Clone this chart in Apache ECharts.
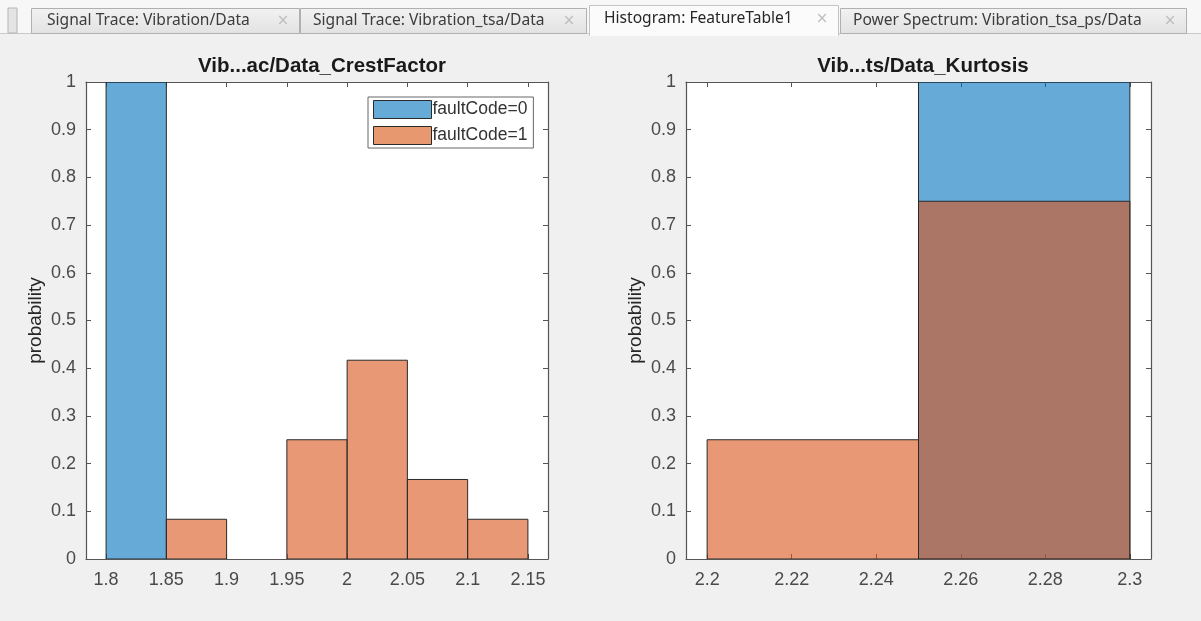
<!DOCTYPE html>
<html>
<head>
<meta charset="utf-8">
<script src="https://cdn.jsdelivr.net/npm/echarts@6/dist/echarts.min.js"></script>
<style>
html,body{margin:0;padding:0;background:#f0f0f0;}
#c{width:1201px;height:621px;}
</style>
</head>
<body>
<div id="c"></div>
<script>
// ---- data ----
var tabTitles = ['Signal Trace: Vibration/Data', 'Signal Trace: Vibration_tsa/Data', 'Histogram: FeatureTable1', 'Power Spectrum: Vibration_tsa_ps/Data'];
var leftTitle = 'Vib...ac/Data_CrestFactor';
var rightTitle = 'Vib...ts/Data_Kurtosis';
var seriesNames = ['faultCode=0', 'faultCode=1'];
// bins: [left edge, right edge, probability]
var crestFault0 = [[1.80, 1.85, 1.0]];
var crestFault1 = [[1.85, 1.90, 0.0833], [1.90, 1.95, 0], [1.95, 2.00, 0.25], [2.00, 2.05, 0.4167], [2.05, 2.10, 0.1667], [2.10, 2.15, 0.0833]];
var kurtFault0 = [[2.25, 2.30, 1.0]];
var kurtFault1 = [[2.20, 2.25, 0.25], [2.25, 2.30, 0.75]];
var crestTicks = [1.8, 1.85, 1.9, 1.95, 2, 2.05, 2.1, 2.15];
var kurtTicks = [2.2, 2.22, 2.24, 2.26, 2.28, 2.3];
var yTicks = [0, 0.1, 0.2, 0.3, 0.4, 0.5, 0.6, 0.7, 0.8, 0.9, 1];

// ---- styles ----
var FONT = '"Liberation Sans", Arial, Helvetica, sans-serif';
var AX = '#555555';
var LBL = '#4a4a4a';
var BLUE = 'rgba(0,114,189,0.6)';
var ORANGE = 'rgba(217,83,25,0.6)';
var EDGE = '#2a2a2a';

var chart = echarts.init(document.getElementById('c'), null, {renderer: 'canvas'});

function renderBin(params, api) {
  var p0 = api.coord([api.value(0), api.value(2)]);
  var p1 = api.coord([api.value(1), 0]);
  var h = p1[1] - p0[1];
  if (h <= 0.01) return null;
  return {
    type: 'rect',
    shape: {x: p0[0], y: p0[1], width: p1[0] - p0[0], height: h},
    style: {fill: api.visual('color'), stroke: EDGE, lineWidth: 1}
  };
}

var grids = [
  {left: 86, top: 82, width: 462, height: 477},
  {left: 686, top: 82, width: 465, height: 477}
];
var xr = [[1.78333, 2.16667], [2.195, 2.305]];
var xt = [crestTicks, kurtTicks];

var xAxes = [], yAxes = [];
for (var g = 0; g < 2; g++) {
  xAxes.push({
    type: 'value', gridIndex: g, min: xr[g][0], max: xr[g][1], position: 'bottom',
    axisLine: {show: true, onZero: false, lineStyle: {color: AX, width: 1.2}},
    axisTick: {show: true, inside: true, length: 5, customValues: xt[g], lineStyle: {color: AX}},
    axisLabel: {show: true, customValues: xt[g], color: LBL, fontSize: 18, fontFamily: FONT, margin: 12,
      formatter: function (v) { return String(+v.toFixed(3)); }},
    splitLine: {show: false}
  });
  xAxes.push({
    type: 'value', gridIndex: g, min: xr[g][0], max: xr[g][1], position: 'top',
    axisLine: {show: true, onZero: false, lineStyle: {color: AX, width: 1.2}},
    axisTick: {show: true, inside: true, length: 5, customValues: xt[g], lineStyle: {color: AX}},
    axisLabel: {show: false}, splitLine: {show: false}
  });
  yAxes.push({
    type: 'value', gridIndex: g, min: 0, max: 1, interval: 0.1, position: 'left',
    name: 'probability', nameLocation: 'middle', nameGap: 41, nameRotate: 90,
    nameTextStyle: {color: '#262626', fontSize: 19, fontFamily: FONT},
    axisLine: {show: true, onZero: false, lineStyle: {color: AX, width: 1.2}},
    axisTick: {show: true, inside: true, length: 5, customValues: yTicks, lineStyle: {color: AX}},
    axisLabel: {show: true, customValues: yTicks, color: LBL, fontSize: 18, fontFamily: FONT, margin: 10,
      formatter: function (v) { return String(+v.toFixed(2)); }},
    splitLine: {show: false}
  });
  yAxes.push({
    type: 'value', gridIndex: g, min: 0, max: 1, interval: 0.1, position: 'right',
    axisLine: {show: true, onZero: false, lineStyle: {color: AX, width: 1.2}},
    axisTick: {show: true, inside: true, length: 5, customValues: yTicks, lineStyle: {color: AX}},
    axisLabel: {show: false}, splitLine: {show: false}
  });
}

function binSeries(name, data, color, g) {
  return {
    type: 'custom', name: name, xAxisIndex: g * 2, yAxisIndex: g * 2,
    renderItem: renderBin, data: data, clip: true, silent: true,
    itemStyle: {color: color, borderColor: EDGE, borderWidth: 1},
    encode: {x: [0, 1], y: 2}
  };
}

// tab bar graphics
var tabGeo = [
  {x: 31, w: 268, tx: 47, cx: 283},
  {x: 300, w: 286, tx: 313, cx: 569},
  {x: 589, w: 249, tx: 604, cx: 822},
  {x: 840, w: 346, tx: 853, cx: 1170}
];
var graphics = [
  {type: 'rect', shape: {x: 0, y: 0, width: 1201, height: 34}, style: {fill: '#f7f7f7'}, z: 0},
  {type: 'rect', shape: {x: 0, y: 33, width: 1201, height: 1}, style: {fill: '#c9c9c9'}, z: 1},
  {type: 'rect', shape: {x: 8, y: 8, width: 9, height: 25}, style: {fill: '#e4e4e4', stroke: '#b5b5b5', lineWidth: 1}, z: 1}
];
for (var i = 0; i < tabTitles.length; i++) {
  var t = tabGeo[i];
  var active = (i === 2);
  graphics.push({
    type: 'rect', z: 2,
    shape: {x: t.x + 0.5, y: active ? 5.5 : 8.5, width: t.w, height: active ? 30 : 25},
    style: active ? {fill: '#fbfbfb', stroke: '#c4c4c4', lineWidth: 1} :
      {fill: new echarts.graphic.LinearGradient(0, 0, 0, 1, [{offset: 0, color: '#f2f2f2'}, {offset: 1, color: '#e2e2e2'}]), stroke: '#b0b0b0', lineWidth: 1}
  });
  if (active) {
    graphics.push({type: 'rect', z: 3, shape: {x: t.x + 1, y: 33, width: t.w - 1, height: 3}, style: {fill: '#fbfbfb'}});
  }
  graphics.push({
    type: 'text', z: 4, x: t.tx, y: active ? 19 : 21,
    style: {text: tabTitles[i], fill: active ? '#262626' : '#3c3c3c', font: '15.6px "Noto Sans", "Open Sans", sans-serif', verticalAlign: 'middle'}
  });
  graphics.push({
    type: 'text', z: 4, x: t.cx, y: active ? 19 : 21,
    style: {text: '\u00d7', fill: '#bdbdbd', font: '15px "DejaVu Sans", sans-serif', align: 'center', verticalAlign: 'middle'}
  });
}

var option = {
  backgroundColor: '#f0f0f0',
  animation: false,
  title: [
    {text: leftTitle, left: 317, top: 51, textAlign: 'center',
      textStyle: {fontSize: 20.5, fontWeight: 'bold', color: '#1a1a1a', fontFamily: FONT}},
    {text: rightTitle, left: 918, top: 51, textAlign: 'center',
      textStyle: {fontSize: 20.5, fontWeight: 'bold', color: '#1a1a1a', fontFamily: FONT}}
  ],
  legend: {
    orient: 'vertical', left: 368, top: 97, selectedMode: false,
    backgroundColor: '#ffffff', borderColor: '#666666', borderWidth: 1, borderRadius: 0,
    padding: [3, 6, 3, 5], itemWidth: 58, itemHeight: 18, itemGap: 7,
    textStyle: {fontSize: 17.5, color: '#333333', fontFamily: FONT, padding: [0, 0, 0, -4]},
    data: [
      {name: seriesNames[0], icon: 'rect', itemStyle: {color: '#66aad7', borderColor: EDGE, borderWidth: 1}},
      {name: seriesNames[1], icon: 'rect', itemStyle: {color: '#e8986f', borderColor: EDGE, borderWidth: 1}}
    ]
  },
  grid: grids.map(function (gr) { return Object.assign({backgroundColor: '#ffffff', show: true, borderWidth: 0}, gr); }),
  xAxis: xAxes,
  yAxis: yAxes,
  series: [
    binSeries(seriesNames[0], crestFault0, BLUE, 0),
    binSeries(seriesNames[1], crestFault1, ORANGE, 0),
    binSeries(seriesNames[0], kurtFault0, BLUE, 1),
    binSeries(seriesNames[1], kurtFault1, ORANGE, 1)
  ],
  graphic: graphics
};
chart.setOption(option);
</script>
</body>
</html>
